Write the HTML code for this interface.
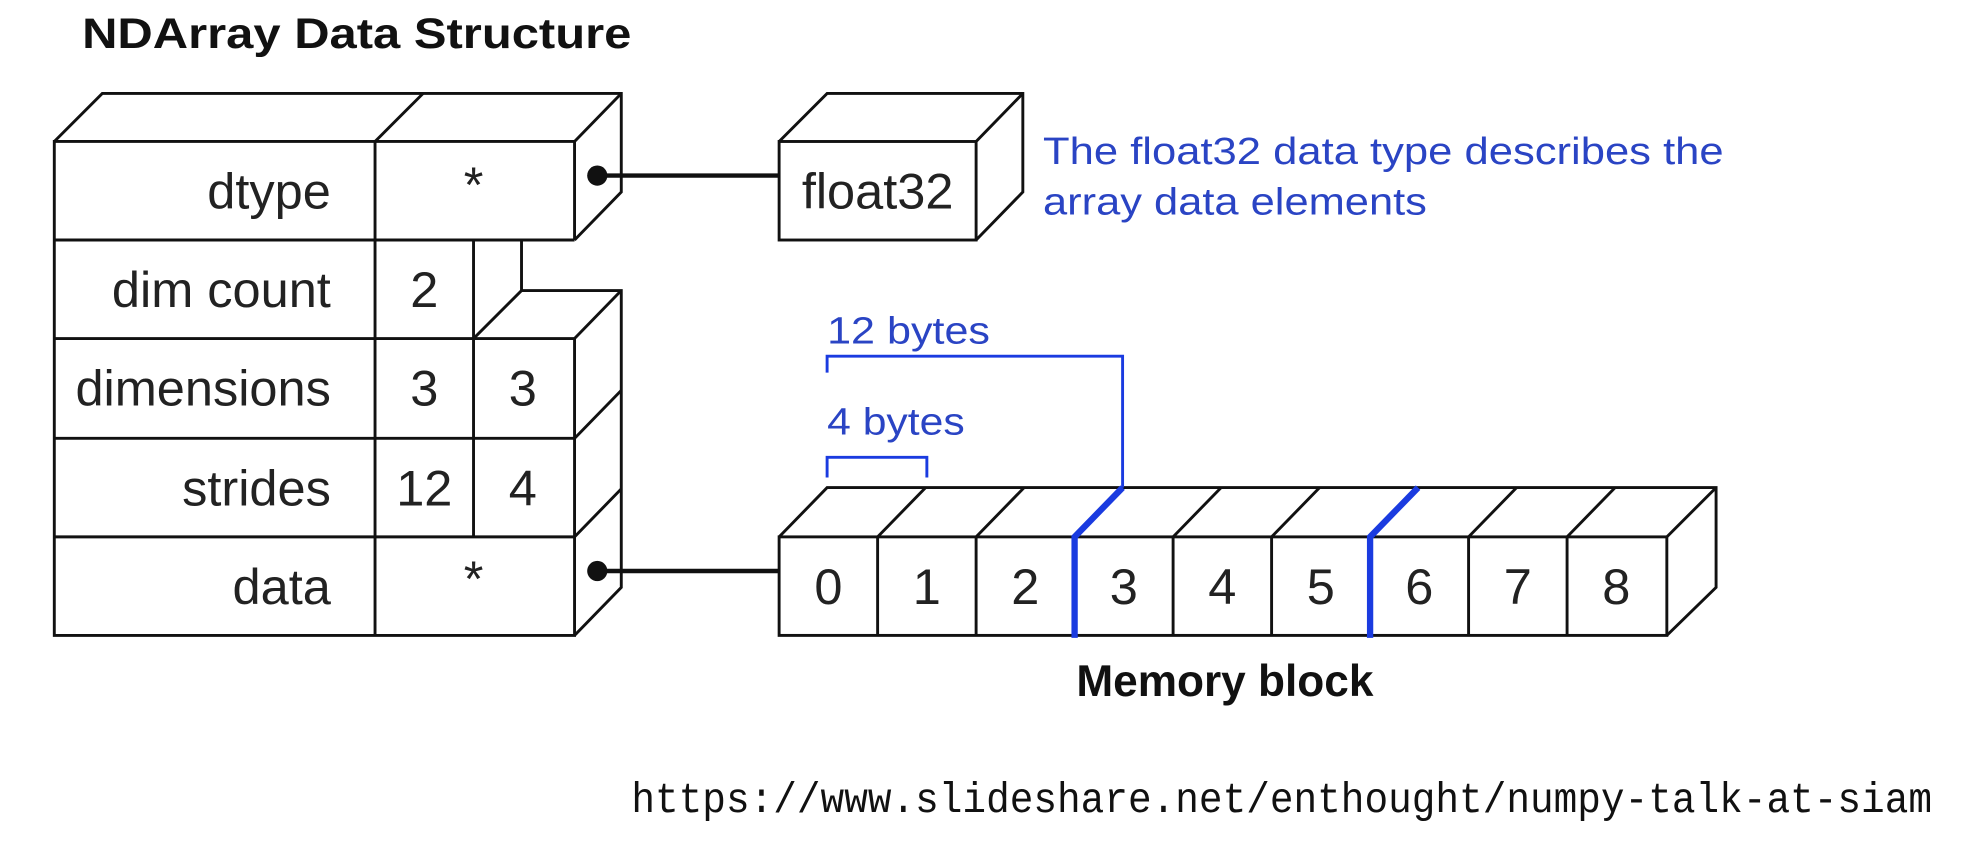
<!DOCTYPE html>
<html><head><meta charset="utf-8"><style>html,body{margin:0;padding:0;background:#fff}svg{display:block}</style></head>
<body>
<svg width="1980" height="859" viewBox="0 0 1568 680" preserveAspectRatio="none" xmlns="http://www.w3.org/2000/svg" font-family="Liberation Sans, Arial, sans-serif">
<rect width="1568" height="680" fill="#fff"/>
<text x="65" y="38" font-size="34" font-weight="bold" textLength="435" lengthAdjust="spacingAndGlyphs" fill="#111">NDArray Data Structure</text>
<g fill="none" stroke="#111" stroke-width="2.3">
<!-- left struct front -->
<polyline points="455,268 455,503 43,503 43,112 455,112 455,190"/>
<line x1="43" y1="190" x2="455" y2="190"/>
<line x1="43" y1="268" x2="455" y2="268"/>
<line x1="43" y1="347" x2="455" y2="347"/>
<line x1="43" y1="425" x2="455" y2="425"/>
<line x1="297" y1="112" x2="297" y2="503"/>
<line x1="375" y1="190" x2="375" y2="425"/>
<!-- top face -->
<polyline points="43,112 81,74 492,74 492,152 455,190"/>
<line x1="297" y1="112" x2="335" y2="74"/>
<line x1="455" y1="112" x2="492" y2="74"/>
<!-- notch -->
<polyline points="413,190 413,230 492,230 492,465 455,503"/>
<line x1="375" y1="268" x2="413" y2="230"/>
<line x1="455" y1="268" x2="492" y2="230"/>
<line x1="455" y1="347" x2="492" y2="309"/>
<line x1="455" y1="425" x2="492" y2="387"/>
<!-- float32 box -->
<rect x="617" y="112" width="156" height="78"/>
<polyline points="617,112 655,74 810,74 810,152 773,190"/>
<line x1="773" y1="112" x2="810" y2="74"/>
<!-- memory block -->
<rect x="617" y="425" width="703" height="78"/>
<polyline points="617,425 655,386 1359,386 1359,465 1320,503"/>
<line x1="1320" y1="425" x2="1359" y2="386"/>
</g>
<g stroke="#111" stroke-width="2.3">
<line x1="695" y1="425" x2="695" y2="503"/><line x1="695" y1="425" x2="733" y2="386"/>
<line x1="773" y1="425" x2="773" y2="503"/><line x1="773" y1="425" x2="811" y2="386"/>
<line x1="929" y1="425" x2="929" y2="503"/><line x1="929" y1="425" x2="967" y2="386"/>
<line x1="1007" y1="425" x2="1007" y2="503"/><line x1="1007" y1="425" x2="1045" y2="386"/>
<line x1="1163" y1="425" x2="1163" y2="503"/><line x1="1163" y1="425" x2="1201" y2="386"/>
<line x1="1241" y1="425" x2="1241" y2="503"/><line x1="1241" y1="425" x2="1279" y2="386"/>
</g>
<!-- pointers -->
<g stroke="#111" stroke-width="3.5">
<line x1="473" y1="139" x2="617" y2="139"/>
<line x1="473" y1="452" x2="617" y2="452"/>
</g>
<circle cx="473" cy="139" r="8" fill="#111"/>
<circle cx="473" cy="452" r="8" fill="#111"/>
<!-- blue -->
<g fill="none" stroke="#1a3be0">
<polyline points="851,505 851,425 889,386" stroke-width="5"/>
<polyline points="1085,505 1085,425 1123,386" stroke-width="5"/>
<polyline points="655,295 655,282 889,282 889,386" stroke-width="2.3"/>
<polyline points="655,378 655,362 734,362 734,378" stroke-width="2.3"/>
</g>
<g fill="#2a44c4" font-size="30">
<text x="826" y="130" textLength="539" lengthAdjust="spacingAndGlyphs">The float32 data type describes the</text>
<text x="826" y="170" textLength="304" lengthAdjust="spacingAndGlyphs">array data elements</text>
<text x="655" y="272" textLength="129" lengthAdjust="spacingAndGlyphs">12 bytes</text>
<text x="655" y="344" textLength="109" lengthAdjust="spacingAndGlyphs">4 bytes</text>
</g>
<g fill="#222" font-size="40">
<text x="262" y="165" text-anchor="end">dtype</text>
<text x="262" y="243" text-anchor="end">dim count</text>
<text x="262" y="321" text-anchor="end">dimensions</text>
<text x="262" y="400" text-anchor="end">strides</text>
<text x="262" y="478" text-anchor="end">data</text>
<text x="375" y="160" text-anchor="middle">*</text>
<text x="375" y="472" text-anchor="middle">*</text>
<text x="336" y="243" text-anchor="middle">2</text>
<text x="336" y="321" text-anchor="middle">3</text>
<text x="414" y="321" text-anchor="middle">3</text>
<text x="336" y="400" text-anchor="middle">12</text>
<text x="414" y="400" text-anchor="middle">4</text>
<text x="695" y="165" text-anchor="middle">float32</text>
<text x="656" y="478" text-anchor="middle">0</text>
<text x="734" y="478" text-anchor="middle">1</text>
<text x="812" y="478" text-anchor="middle">2</text>
<text x="890" y="478" text-anchor="middle">3</text>
<text x="968" y="478" text-anchor="middle">4</text>
<text x="1046" y="478" text-anchor="middle">5</text>
<text x="1124" y="478" text-anchor="middle">6</text>
<text x="1202" y="478" text-anchor="middle">7</text>
<text x="1280" y="478" text-anchor="middle">8</text>
</g>
<text x="970" y="551" font-size="35" font-weight="bold" text-anchor="middle" fill="#111">Memory block</text>
<text x="500" y="643" font-family="Liberation Mono, monospace" font-size="34" textLength="1030" lengthAdjust="spacingAndGlyphs" fill="#111">https://www.slideshare.net/enthought/numpy-talk-at-siam</text>
</svg>
</body></html>
